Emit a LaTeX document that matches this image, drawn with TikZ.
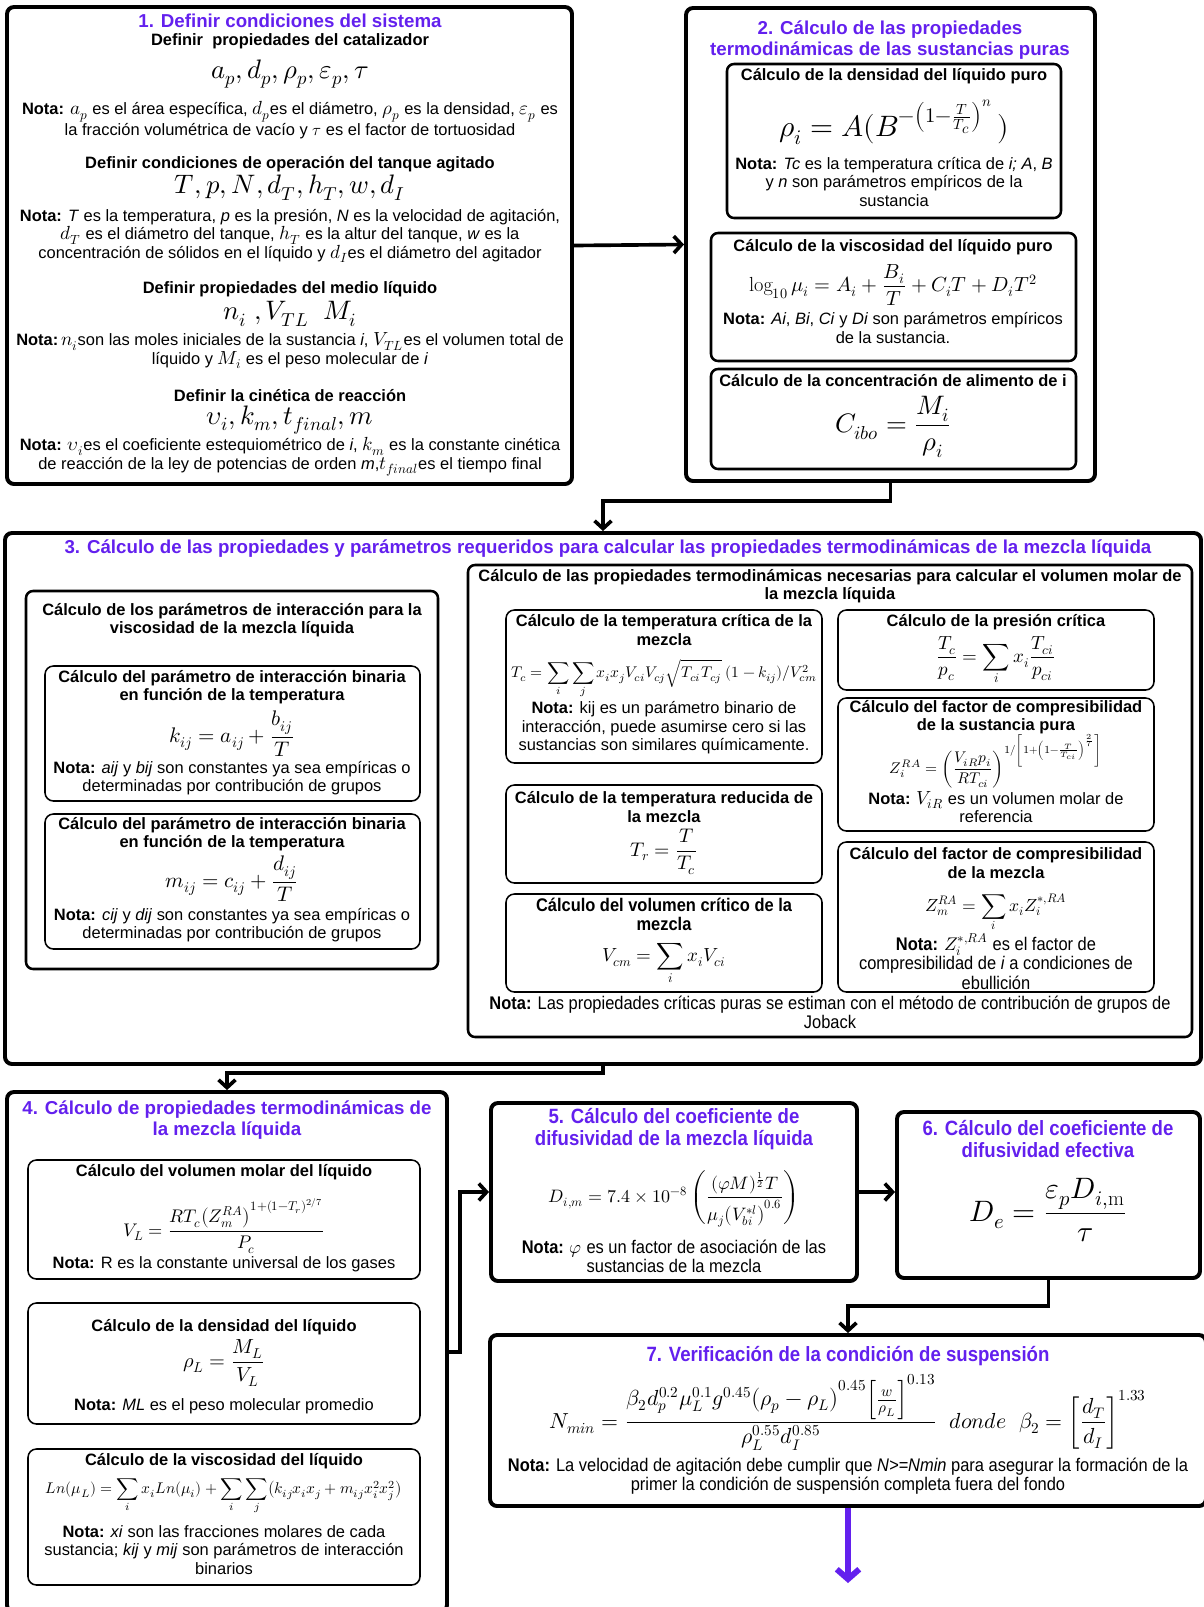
\documentclass[tikz,border=0pt]{standalone}
\usepackage{amsmath}
\usepackage{unicode-math}
\setmainfont{Liberation Sans}
\setmathfont{Latin Modern Math}
\setmathrm{Latin Modern Roman}
\newfontfamily\narrowsf[FakeStretch=0.9]{Liberation Sans}
\usetikzlibrary{arrows.meta, positioning, fit, calc}
\definecolor{stagepurple}{HTML}{6320EE}

\newcommand{\bodysize}{\fontsize{11.7}{13.1}\selectfont}
\newcommand{\titlesize}{\fontsize{13.3}{14.8}\selectfont}
\newcommand{\narrowsize}{\narrowsf\fontsize{13}{13.6}\selectfont}
\newcommand{\nm}[1]{{\fontsize{13.5}{13.1}\selectfont$#1$}}
\newcommand{\notalbl}{\textbf{Nota:}}

\begin{document}
\begin{tikzpicture}[
    x=0.025cm, y=-0.025cm,
    % ── shared styles ──
    stage box/.style={draw, line width=2.8pt, rounded corners=5pt, inner sep=0pt},
    group box/.style={draw, line width=1.8pt, rounded corners=5pt, inner sep=0pt},
    calc box/.style={draw, line width=1.1pt, rounded corners=6pt, inner sep=0pt},
    stage title/.style={font=\titlesize\bfseries, text=stagepurple, align=center,
        inner sep=0pt},
    narrow title/.style={font=\narrowsf\fontsize{14.7}{15.2}\selectfont\bfseries,
        text=stagepurple, align=center, inner sep=0pt},
    calc title/.style={font=\bodysize\bfseries, align=center, inner sep=0pt},
    narrow calc title/.style={font=\narrowsize\bfseries, align=center, inner sep=0pt},
    nota text/.style={font=\bodysize, align=center, inner sep=0pt},
    narrow nota/.style={font=\narrowsize, align=center, inner sep=0pt},
    eq text/.style={font=\fontsize{#1}{#1}\selectfont, inner sep=0pt},
    eq text/.default=12,
    flow/.style={line width=2.6pt, -{Straight Barb[length=5.5pt, width=12pt]}},
    final flow/.style={draw=stagepurple, line width=4.2pt,
        -{Straight Barb[length=7pt, width=16pt]}},
]
\useasboundingbox (0,0) rectangle (1204,1607);

% ══════════════════════════════════════════════════════════════════════
%  1. CONDICIONES DEL SISTEMA
% ══════════════════════════════════════════════════════════════════════
\node[stage box, fit={(7,7) (572,484)}] (b1) {};
\node[stage title] (b1-t) at (290,21) {1. Definir condiciones del sistema};
\node[calc title] (b1-s1) at (290,41) {Definir \ propiedades del catalizador};
\node[eq text=19] (b1-e1) at (290,74) {$a_p, d_p, \rho_p, \varepsilon_p, \tau$};
\node[nota text] (b1-n1) at (290,120)
    {\notalbl{} \nm{a_p} es el área específica, \nm{d_p}es el diámetro, \nm{\rho_p} es la densidad, \nm{\varepsilon_p} es\\
     la fracción volumétrica de vacío y $\tau$ es el factor de tortuosidad};
\node[calc title] (b1-s2) at (290,164) {Definir condiciones de operación del tanque agitado};
\node[eq text=19] (b1-e2) at (290,188) {$T, p, N, d_T, h_T, w, d_I$};
\node[nota text] (b1-n2) at (290,236)
    {\notalbl{} \textit{T} es la temperatura, \textit{p} es la presión, \textit{N} es la velocidad de agitación,\\
     \nm{d_T} es el diámetro del tanque, \nm{h_T} es la altur del tanque, \textit{w} es la\\
     concentración de sólidos en el líquido y \nm{d_I}es el diámetro del agitador};
\node[calc title] (b1-s3) at (290,289) {Definir propiedades del medio líquido};
\node[eq text=19] (b1-e3) at (290,314) {$n_i\ ,V_{TL}\ \ M_i$};
\node[nota text] (b1-n3) at (290,351)
    {\notalbl\,\nm{n_i}son las moles iniciales de la sustancia \textit{i}, \nm{V_{TL}}es el volumen total de\\
     líquido y \nm{M_i} es el peso molecular de \textit{i}};
\node[calc title] (b1-s4) at (290,396) {Definir la cinética de reacción};
\node[eq text=19] (b1-e4) at (290,420) {$\upsilon_i, k_m, t_{final}, m$};
\node[nota text] (b1-n4) at (290,457)
    {\notalbl{} \nm{\upsilon_i}es el coeficiente estequiométrico de \textit{i}, \nm{k_m} es la constante cinética\\
     de reacción de la ley de potencias de orden \textit{m},\nm{t_{final}}es el tiempo final};

% ══════════════════════════════════════════════════════════════════════
%  2. SUSTANCIAS PURAS
% ══════════════════════════════════════════════════════════════════════
\node[stage box, fit={(686,8) (1095,481)}] (b2) {};
\node[stage title] (b2-t) at (890,40)
    {2. Cálculo de las propiedades\\termodinámicas de las sustancias puras};

\node[group box, fit={(727,64) (1061,218)}] (dens) {};
\node[calc title] (dens-t) at (894,76) {Cálculo de la densidad del líquido puro};
\node[eq text=21] (dens-e) at (894,122)
    {$\rho_i = A(B^{-\left(1-\frac{T}{T_c}\right)^{n}}\,)$};
\node[nota text] (dens-n) at (894,182)
    {\notalbl{} \textit{Tc} es la temperatura crítica de \textit{i; A}, \textit{B}\\
     y \textit{n} son parámetros empíricos de la\\sustancia};

\node[group box, fit={(711,233) (1076,361)}] (visc) {};
\node[calc title] (visc-t) at (893,247) {Cálculo de la viscosidad del líquido puro};
\node[eq text=14.5] (visc-e) at (893,285)
    {$\log_{10}\mu_i = A_i + \dfrac{B_i}{T} + C_iT + D_iT^2$};
\node[nota text] (visc-n) at (893,328)
    {\notalbl{} \textit{Ai}, \textit{Bi}, \textit{Ci} y \textit{Di} son parámetros empíricos\\de la sustancia.};

\node[group box, fit={(711,369) (1076,469)}] (conc) {};
\node[calc title] (conc-t) at (893,381) {Cálculo de la concentración de alimento de i};
\node[eq text=19] (conc-e) at (893,427) {$C_{ibo} = \dfrac{M_i}{\rho_i}$};

% ══════════════════════════════════════════════════════════════════════
%  3. PROPIEDADES Y PARAMETROS DE LA MEZCLA
% ══════════════════════════════════════════════════════════════════════
\node[stage box, fit={(5,533) (1201,1064)}] (b3) {};
\node[stage title] (b3-t) at (608,549)
    {3. Cálculo de las propiedades y parámetros requeridos para calcular las propiedades termodinámicas de la mezcla líquida};

% ── parámetros de interacción ──
\node[group box, fit={(26,591) (438,969)}] (interac) {};
\node[calc title] (interac-t) at (232,620)
    {Cálculo de los parámetros de interacción para la\\viscosidad de la mezcla líquida};

\node[calc box, fit={(45,666) (420,801)}] (kij) {};
\node[calc title] (kij-t) at (232,687)
    {Cálculo del parámetro de interacción binaria\\en función de la temperatura};
\node[eq text=15] (kij-e) at (232,734) {$k_{ij} = a_{ij} + \dfrac{b_{ij}}{T}$};
\node[nota text] (kij-n) at (232,778)
    {\notalbl{} \textit{aij} y \textit{bij} son constantes ya sea empíricas o\\determinadas por contribución de grupos};

\node[calc box, fit={(45,814) (420,949)}] (mij) {};
\node[calc title] (mij-t) at (232,834)
    {Cálculo del parámetro de interacción binaria\\en función de la temperatura};
\node[eq text=15] (mij-e) at (232,879) {$m_{ij} = c_{ij} + \dfrac{d_{ij}}{T}$};
\node[nota text] (mij-n) at (232,925)
    {\notalbl{} \textit{cij} y \textit{dij} son constantes ya sea empíricas o\\determinadas por contribución de grupos};

% ── propiedades para el volumen molar ──
\node[group box, fit={(468,565) (1192,1037)}] (tprop) {};
\node[calc title] (tprop-t) at (830,586)
    {Cálculo de las propiedades termodinámicas necesarias para calcular el volumen molar de\\la mezcla líquida};

\node[calc box, fit={(506,610) (822,763)}] (tc) {};
\node[calc title] (tc-t) at (664,630) {Cálculo de la temperatura crítica de la\\mezcla};
\node[eq text=11] (tc-e) at (664,679)
    {$T_c = \displaystyle\sum_i\sum_j x_ix_jV_{ci}V_{cj}\sqrt{T_{ci}T_{cj}}\;(1-k_{ij})/V_{cm}^2$};
\node[nota text] (tc-n) at (664,728)
    {\notalbl{} kij es un parámetro binario de\\interacción, puede asumirse cero si las\\sustancias son similares químicamente.};

\node[calc box, fit={(506,785) (822,883)}] (tr) {};
\node[calc title] (tr-t) at (664,807) {Cálculo de la temperatura reducida de\\la mezcla};
\node[eq text=14] (tr-e) at (664,852) {$T_r = \dfrac{T}{T_c}$};

\node[calc box, fit={(506,894) (822,992)}] (vcm) {};
\node[narrow calc title] (vcm-t) at (664,914) {Cálculo del volumen crítico de la\\mezcla};
\node[eq text=13.5] (vcm-e) at (664,964) {$V_{cm} = \displaystyle\sum_i x_iV_{ci}$};

\node[calc box, fit={(838,610) (1154,690)}] (pc) {};
\node[calc title] (pc-t) at (996,622) {Cálculo de la presión crítica};
\node[eq text=13.5] (pc-e) at (996,661)
    {$\dfrac{T_c}{p_c} = \displaystyle\sum_i x_i\dfrac{T_{ci}}{p_{ci}}$};

\node[calc box, fit={(838,698) (1154,831)}] (zpura) {};
\node[calc title] (zpura-t) at (996,717)
    {Cálculo del factor de compresibilidad\\de la sustancia pura};
\node[eq text=11] (zpura-e) at (996,761)
    {$Z_i^{RA} = \left(\dfrac{V_{iR}p_i}{RT_{ci}}\right)^{1/\left[1+\left(1-\frac{T}{T_{ci}}\right)^{\frac{2}{7}}\right]}$};
\node[nota text] (zpura-n) at (996,807) {\notalbl{} \nm{V_{iR}} es un volumen molar de\\referencia};

\node[calc box, fit={(838,842) (1154,992)}] (zmez) {};
\node[calc title] (zmez-t) at (996,863)
    {Cálculo del factor de compresibilidad\\de la mezcla};
\node[eq text=12.5] (zmez-e) at (996,913) {$Z_m^{RA} = \displaystyle\sum_i x_iZ_i^{*,RA}$};
\node[narrow nota] (zmez-n) at (996,961)
    {\textbf{Nota:} $Z_i^{*,RA}$ es el factor de\\compresibilidad de \textit{i} a condiciones de\\ebullición};

\node[narrow nota] (tprop-n) at (830,1012)
    {\textbf{Nota:} Las propiedades críticas puras se estiman con el método de contribución de grupos de\\Joback};

% ══════════════════════════════════════════════════════════════════════
%  4. MEZCLA LIQUIDA
% ══════════════════════════════════════════════════════════════════════
\node[stage box, fit={(7,1092) (447,1612)}] (b4) {};
\node[stage title] (b4-t) at (227,1120)
    {4. Cálculo de propiedades termodinámicas de\\la mezcla líquida};

\node[calc box, fit={(28,1160) (420,1279)}] (vl) {};
\node[calc title] (vl-t) at (224,1172) {Cálculo del volumen molar del líquido};
\node[eq text=13] (vl-e) at (224,1226)
    {$V_L = \dfrac{RT_c\bigl(Z_m^{RA}\bigr)^{1+(1-T_r)^{2/7}}}{P_c}$};
\node[nota text] (vl-n) at (224,1264) {\notalbl{} R es la constante universal de los gases};

\node[calc box, fit={(28,1303) (420,1424)}] (rhol) {};
\node[calc title] (rhol-t) at (224,1327) {Cálculo de la densidad del líquido};
\node[eq text=14.5] (rhol-e) at (224,1363) {$\rho_L = \dfrac{M_L}{V_L}$};
\node[nota text] (rhol-n) at (224,1406) {\notalbl{} \textit{ML} es el peso molecular promedio};

\node[calc box, fit={(28,1449) (420,1585)}] (mul) {};
\node[calc title] (mul-t) at (224,1461) {Cálculo de la viscosidad del líquido};
\node[eq text=11] (mul-e) at (224,1497)
    {$Ln(\mu_L) = \displaystyle\sum_i x_iLn(\mu_i) + \sum_i\sum_j\bigl(k_{ij}x_ix_j + m_{ij}x_i^2x_j^2\bigr)$};
\node[nota text] (mul-n) at (224,1550)
    {\notalbl{} \textit{xi} son las fracciones molares de cada\\sustancia; \textit{kij} y \textit{mij} son parámetros de interacción\\binarios};

% ══════════════════════════════════════════════════════════════════════
%  5. - 7. DIFUSIVIDAD Y SUSPENSION
% ══════════════════════════════════════════════════════════════════════
\node[stage box, fit={(491,1103) (857,1281)}] (b5) {};
\node[narrow title] (b5-t) at (674,1129)
    {5. Cálculo del coeficiente de\\difusividad de la mezcla líquida};
\node[eq text=12.8] (b5-e) at (674,1199)
    {$D_{i,m} = 7.4\times10^{-8}\left(\dfrac{(\varphi M)^{\frac{1}{2}}T}{\mu_j\bigl(V_{bi}^{*l}\bigr)^{0.6}}\right)$};
\node[narrow nota] (b5-n) at (674,1256)
    {\textbf{Nota:} $\varphi$ es un factor de asociación de las\\sustancias de la mezcla};

\node[stage box, fit={(897,1112) (1200,1278)}] (b6) {};
\node[narrow title] (b6-t) at (1048,1139)
    {6. Cálculo del coeficiente de\\difusividad efectiva};
\node[eq text=21] (b6-e) at (1048,1210) {$D_e = \dfrac{\varepsilon_p D_{i,\mathrm{m}}}{\tau}$};

\node[stage box, fit={(490,1335) (1206,1506)}] (b7) {};
\node[narrow title] (b7-t) at (848,1356) {7. Verificación de la condición de suspensión};
\node[eq text=15.5] (b7-e) at (848,1412)
    {$N_{min} = \dfrac{\beta_2 d_p^{0.2}\mu_L^{0.1}g^{0.45}\bigl(\rho_p-\rho_L\bigr)^{0.45}\Bigl[\frac{w}{\rho_L}\Bigr]^{0.13}}{\rho_L^{0.55}d_I^{0.85}}\ \ donde\ \ \beta_2 = \left[\dfrac{d_T}{d_I}\right]^{1.33}$};
\node[narrow nota] (b7-n) at (848,1476)
    {\textbf{Nota:} La velocidad de agitación debe cumplir que \textit{N>=Nmin} para asegurar la formación de la\\
     primer la condición de suspensión completa fuera del fondo};

% ══════════════════════════════════════════════════════════════════════
%  FLOW ARROWS
% ══════════════════════════════════════════════════════════════════════
\draw[flow] (b1.east) -- (b2.west);
\draw[flow] (b2.south) -- ++(0,18) -| (b3.north);
\draw[flow] (b3.south) -- ++(0,7) -| (b4.north);
\draw[flow] (b4.east) -- ++(11,0) |- (b5.west);
\draw[flow] (b5.east) -- (b5.east -| b6.west);
\draw[flow] (b6.south) -- ++(0,26) -| (b7.north);
\coordinate (fin) at (848,1583);
\draw[final flow] (b7.south) -- (fin);

\end{tikzpicture}
\end{document}
